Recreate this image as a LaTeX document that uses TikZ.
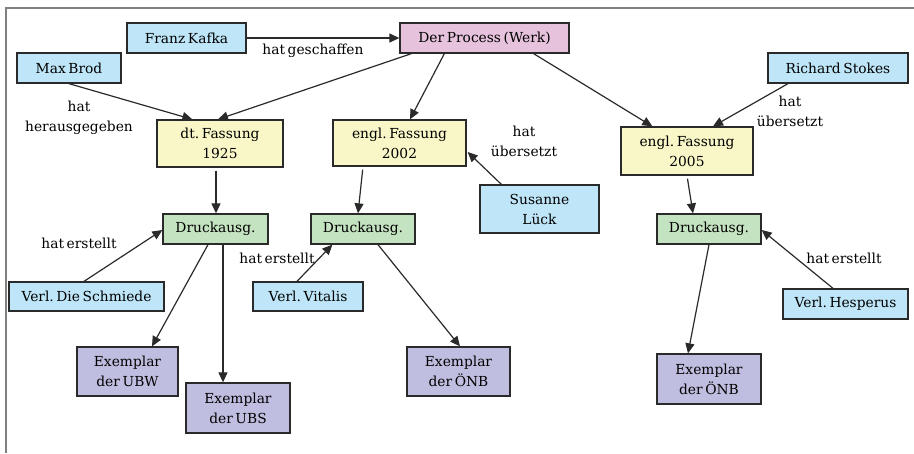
\documentclass[tikz,border=0pt]{standalone}
\usepackage{fontspec}
\setmainfont[WordSpace=0.6]{DejaVu Serif}
\usetikzlibrary{arrows.meta,calc}
\frenchspacing

\definecolor{personfill}{HTML}{BEE6F8}
\definecolor{werkfill}{HTML}{E6C2DC}
\definecolor{fassungfill}{HTML}{F9F7C8}
\definecolor{druckfill}{HTML}{C4E3C0}
\definecolor{exemplarfill}{HTML}{C0BEE0}
\definecolor{edge}{HTML}{2A2A2A}
\definecolor{framegray}{HTML}{808080}

\tikzset{
  box/.style={draw=edge, line width=1.3pt, inner sep=0pt, align=center,
    font=\fontsize{13.8}{20}\selectfont\frenchspacing},
  person/.style={box, fill=personfill},
  werk/.style={box, fill=werkfill},
  fassung/.style={box, fill=fassungfill},
  druck/.style={box, fill=druckfill},
  exemplar/.style={box, fill=exemplarfill},
  lbl/.style={inner sep=0pt, align=center, font=\fontsize{13.8}{20}\selectfont\frenchspacing},
  rel/.style={draw=edge, line width=1.2pt, -{Triangle[length=10pt,width=9pt]}},
}

\begin{document}
\begin{tikzpicture}[x=1pt,y=-1pt]
\useasboundingbox (0,0) rectangle (914,453);

% outer frame (top and left edges)
\draw[framegray, line width=1.5pt] (6,453) -- (6,8) -- (914,8);

% persons
\node[person, minimum width=119pt, minimum height=30pt] (kafka)    at (186.5,38)  {Franz Kafka};
\node[person, minimum width=104pt, minimum height=30pt] (brod)     at (69,68)     {Max Brod};
\node[person, minimum width=140pt, minimum height=30pt] (stokes)   at (838,68)    {Richard Stokes};
\node[person, minimum width=119pt, minimum height=48pt] (lueck)    at (539.5,209) {Susanne\\Lück};
\node[person, minimum width=155pt, minimum height=29pt] (schmiede) at (86.5,296.5){Verl. Die Schmiede};
\node[person, minimum width=110pt, minimum height=29pt] (vitalis)  at (308,296.5) {Verl. Vitalis};
\node[person, minimum width=125pt, minimum height=30pt] (hesperus) at (845.5,304) {Verl. Hesperus};

% work
\node[werk, minimum width=169pt, minimum height=30pt] (werk) at (484.5,38) {Der Process (Werk)};

% versions
\node[fassung, minimum width=126pt, minimum height=47pt] (dt)   at (220,143.5) {dt. Fassung\\1925};
\node[fassung, minimum width=133pt, minimum height=46pt] (en02) at (399.5,143) {engl. Fassung\\2002};
\node[fassung, minimum width=132pt, minimum height=48pt] (en05) at (687,151)   {engl. Fassung\\2005};

% printed editions
\node[druck, minimum width=105pt, minimum height=30pt] (drL) at (215.5,229) {Druckausg.};
\node[druck, minimum width=104pt, minimum height=30pt] (drM) at (363,229)   {Druckausg.};
\node[druck, minimum width=104pt, minimum height=30pt] (drR) at (709,229)   {Druckausg.};

% copies
\node[exemplar, minimum width=101pt, minimum height=49pt] (ubw)   at (127.5,371.5) {Exemplar\\der UBW};
\node[exemplar, minimum width=104pt, minimum height=50pt] (ubs)   at (238,408)     {Exemplar\\der UBS};
\node[exemplar, minimum width=103pt, minimum height=49pt] (oenbM) at (458.5,371.5) {Exemplar\\der ÖNB};
\node[exemplar, minimum width=104pt, minimum height=50pt] (oenbR) at (709,379)     {Exemplar\\der ÖNB};

% relations
\draw[rel] (kafka) -- (werk);
\draw[rel] ($(werk.south west)+(12,0)$) -- ($(dt.north)+(-2,0)$);
\draw[rel] (brod.south) -- ($(dt.north west)+(36,0)$);
\draw[rel] ($(werk.south west)+(45,0)$) -- ($(en02.north)+(10.5,0)$);
\draw[rel] ($(werk.south east)+(-36,0)$) -- ($(en05.north west)+(32,0)$);
\draw[rel] ($(stokes.south)+(-50,0)$) -- ($(en05.north)+(26,0)$);
\draw[rel, shorten <=3pt] ($(dt.south)+(-4,0)$) -- ($(drL.north)+(0.5,0)$);
\draw[rel, shorten <=3pt] ($(en02.south)+(-36.5,0)$) -- ($(drM.north)+(-5,0)$);
\draw[rel] ($(lueck.north west)+(22,0)$) -- ($(en02.east)+(1,9)$);
\draw[rel, shorten <=3pt] (en05.south) -- ($(drR.north)+(-16,0)$);
\draw[rel] ($(schmiede.north)+(-2.5,0)$) -- ($(drL.west)+(0,1)$);
\draw[rel] ($(drL.south)+(-7.5,0)$) -- ($(ubw.north)+(24.5,0)$);
\draw[rel] ($(drL.south)+(7.5,0)$) -- ($(ubs.north)+(-15,0)$);
\draw[rel] ($(vitalis.north)+(-11,0)$) -- ($(drM.south west)+(22,0)$);
\draw[rel] ($(drM.south)+(15,0)$) -- ($(oenbM.north)+(1.5,0)$);
\draw[rel] ($(hesperus.north)+(-12.5,0)$) -- ($(drR.east)+(0,1)$);
\draw[rel] (drR.south) -- ($(oenbR.north)+(-21,0)$);

% relation labels
\node[lbl] (lgesch)  at (313,51)  {hat geschaffen};
\node[lbl] (lhrsg)   at (79,118)  {hat\\herausgegeben};
\node[lbl] (luebL)   at (524,141) {hat\\übersetzt};
\node[lbl] (luebS)   at (790,111) {hat\\übersetzt};
\node[lbl] (lerstL)  at (79,243)  {hat erstellt};
\node[lbl] (lerstM)  at (277,258) {hat erstellt};
\node[lbl] (lerstR)  at (844,258) {hat erstellt};
\end{tikzpicture}
\end{document}
